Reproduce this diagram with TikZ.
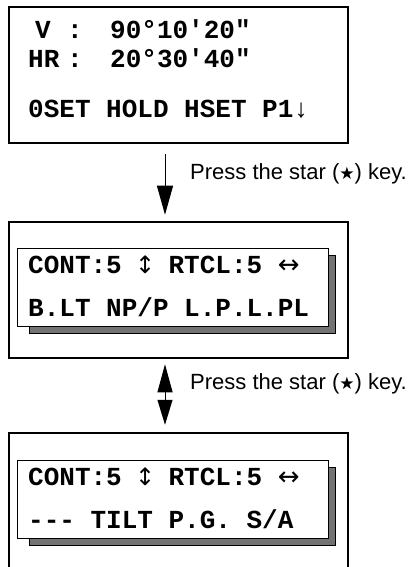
\documentclass[tikz,border=0pt]{standalone}
\usepackage{fontspec}
\setmainfont{Liberation Sans}
\setmonofont{Liberation Mono}
\newfontfamily\symfont{DejaVu Sans}
\usetikzlibrary{arrows.meta}

\tikzset{
  panel/.style={draw, line width=2.5bp, minimum width=339bp, minimum height=136bp, inner sep=0pt},
  screen/.style={draw, line width=1bp, fill=white, minimum width=310bp, minimum height=78bp, inner sep=0pt},
  shade/.style={fill=gray!90!black, draw=black, line width=1bp},
  lcd/.style={anchor=base west, inner sep=0pt, font=\fontsize{26bp}{30bp}\selectfont\ttfamily\bfseries},
  keytext/.style={anchor=base west, inner sep=0pt, font=\fontsize{22bp}{26bp}\selectfont},
  press/.style={line width=1bp, -{Triangle[length=29bp,width=16bp]}},
  pressboth/.style={line width=1bp, {Triangle[length=28bp,width=15bp]}-{Triangle[length=25bp,width=15bp]}},
}
\newcommand{\starkey}{Press the star ({\symfont\fontsize{17bp}{17bp}\selectfont\char"2605}) key.}
\newcommand{\updown}{\makebox[0.6em]{\symfont\mdseries\fontsize{24bp}{24bp}\selectfont\char"2195}}
\newcommand{\leftright}{\makebox[0.6em][l]{\symfont\mdseries\fontsize{26bp}{26bp}\selectfont\char"2194}}

\begin{document}
\begin{tikzpicture}[x=1bp,y=-1bp]
  \useasboundingbox (0,0) rectangle (418,567);

  % the three screens
  \node[panel] (box1) at (178.5,75)  {};
  \node[panel] (box2) at (178.5,290) {};
  \node[panel] (box3) at (178.5,501) {};

  % first screen
  \node[lcd] (vlabel)  at (35,39)  {V};
  \node[lcd] (vcolon)  at (67,39)  {:};
  \node[lcd] (vvalue)  at (110,39) {90°10'20"};
  \node[lcd] (hrlabel) at (28,68)  {HR};
  \node[lcd] (hrcolon) at (67,68)  {:};
  \node[lcd] (hrvalue) at (110,68) {20°30'40"};
  \node[lcd] (menu1)   at (28,118) {0SET HOLD HSET P1↓};

  % second screen
  \fill[shade] (29,255) rectangle (335,333);
  \node[screen] (lcd2) at (173,287) {};
  \node[lcd] (cont2) at (28,273) {CONT:5 \updown{} RTCL:5 \leftright};
  \node[lcd] (menu2) at (28,316) {B.LT NP/P L.P.L.PL};

  % third screen
  \fill[shade] (29,467) rectangle (335,545);
  \node[screen] (lcd3) at (173,499) {};
  \node[lcd] (cont3) at (28,485) {CONT:5 \updown{} RTCL:5 \leftright};
  \node[lcd] (menu3) at (28,528) {--- TILT P.G. S/A};

  % key presses
  \draw[press] ([xshift=-13.5bp,yshift=-10bp]box1.south) -- ([xshift=-13.5bp,yshift=6bp]box2.north);
  \node[keytext] (press1) at (190,179) {\starkey};
  \draw[pressboth] ([xshift=-13.5bp,yshift=-5bp]box2.south) -- ([xshift=-13.5bp,yshift=7bp]box3.north);
  \node[keytext] (press2) at (190,389) {\starkey};
\end{tikzpicture}
\end{document}
